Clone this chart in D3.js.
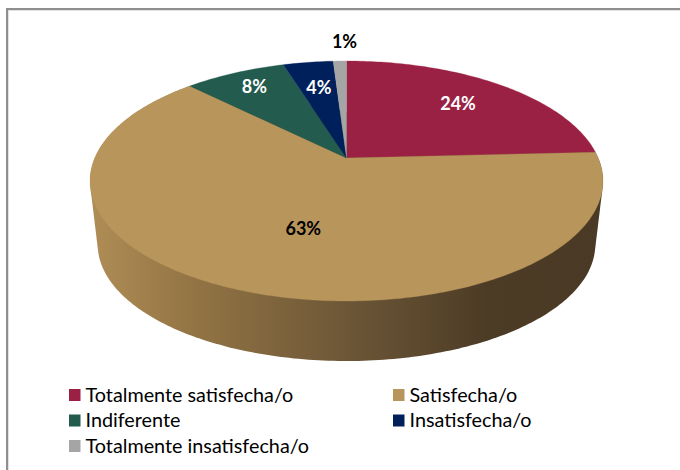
<!DOCTYPE html>
<html><head><meta charset="utf-8">
<script src="https://cdn.jsdelivr.net/npm/d3@7"></script>
<style>html,body{margin:0;padding:0;background:#fff}svg{display:block}text{font-family:Lato,"Open Sans",sans-serif}</style>
</head><body><svg id="c" width="680" height="470"></svg>
<script>
const categories = ["Totalmente satisfecha/o","Satisfecha/o","Indiferente","Insatisfecha/o","Totalmente insatisfecha/o"];
const values = [24.2,63.3,7.7,3.8,1.0];
const colors = ["#9B2144","#B8955B","#235B4E","#00205B","#A5A5A5"];
const labelColors = ["#fff","#000","#fff","#fff","#000"];
// label placement: radial fraction, horizontal nudge
const labelR = [0.72,0.577,0.825,0.709,1.257];
const labelDx = [-2,15,2.5,1,6];

const svg = d3.select("#c");
const defs = svg.append("defs");
const g = defs.append("linearGradient").attr("id","wall").attr("gradientUnits","userSpaceOnUse")
  .attr("x1",90).attr("x2",600).attr("y1",0).attr("y2",0);
[[0,"#B08D56"],[0.2,"#937444"],[0.5,"#6d5737"],[0.78,"#4c3b25"],[1,"#4a3924"]].forEach(s=>g.append("stop").attr("offset",s[0]).attr("stop-color",s[1]));

// frame
svg.append("rect").attr("x",6).attr("y",8).attr("width",674).attr("height",462).attr("fill","#8f8f8f");
svg.append("rect").attr("x",8).attr("y",10).attr("width",672).attr("height",460).attr("fill","#e2e2e2");
svg.append("rect").attr("x",9).attr("y",11).attr("width",671).attr("height",459).attr("fill","#fff");

// perspective disc
const cx=346.5, apex=158, b=251.7, a=115.6, k=0.1917;
function proj(t,r,s,oy){
  const u=Math.sin(t)*r, v=-Math.cos(t)*r, d=1-k*v;
  return [cx+s*b*u/d, oy+s*a*v/d];
}
const topPt=(t,r=1)=>proj(t,r,1,apex);
const botPt=t=>proj(t,1,0.97,222.3);

const pie=d3.pie().sort(null).value(d=>d)(values);
const line=d3.line();
const arcAngles=(s,e)=>{const n=Math.max(4,Math.ceil((e-s)*60));return d3.range(n+1).map(i=>s+(e-s)*i/n);};

// side wall (only the slice that crosses the front of the disc)
pie.filter(p=>p.startAngle<Math.PI && p.endAngle>Math.PI).forEach(p=>{
  const as=arcAngles(p.startAngle,p.endAngle);
  const pts=as.map(botPt).concat(as.map(t=>topPt(t)));
  svg.append("path").attr("d",line(d3.polygonHull(pts))+"Z").attr("fill","url(#wall)");
});
// top faces
svg.selectAll("path.top").data(pie).join("path").attr("class","top")
  .attr("d",p=>line([[cx,apex]].concat(arcAngles(p.startAngle,p.endAngle).map(t=>topPt(t))))+"Z")
  .attr("fill",(p,i)=>colors[i]).attr("stroke",(p,i)=>colors[i]).attr("stroke-width",0.3);

// labels
svg.selectAll("text.lab").data(pie).join("text").attr("class","lab")
  .attr("x",(p,i)=>topPt((p.startAngle+p.endAngle)/2,labelR[i])[0]+labelDx[i])
  .attr("y",(p,i)=>topPt((p.startAngle+p.endAngle)/2,labelR[i])[1]+1)
  .attr("dy","0.35em").attr("text-anchor","middle").attr("font-weight",700).attr("font-size",18)
  .attr("fill",(p,i)=>labelColors[i]).text(p=>Math.round(p.data)+"%");

// legend
const colX=d3.scaleOrdinal().domain([0,1]).range([69,393]);
const rowY=d3.scalePoint().domain([0,1,2]).range([395,446]);
const items=svg.selectAll("g.leg").data(categories).join("g").attr("class","leg")
  .attr("transform",(d,i)=>`translate(${colX(i%2)},${rowY(Math.floor(i/2))})`);
items.append("rect").attr("x",0).attr("y",-6).attr("width",11.5).attr("height",12).attr("fill",(d,i)=>colors[i]);
items.append("text").attr("x",16.5).attr("dy","0.35em").attr("font-size",19.8).attr("fill","#000").text(d=>d);
</script></body></html>
